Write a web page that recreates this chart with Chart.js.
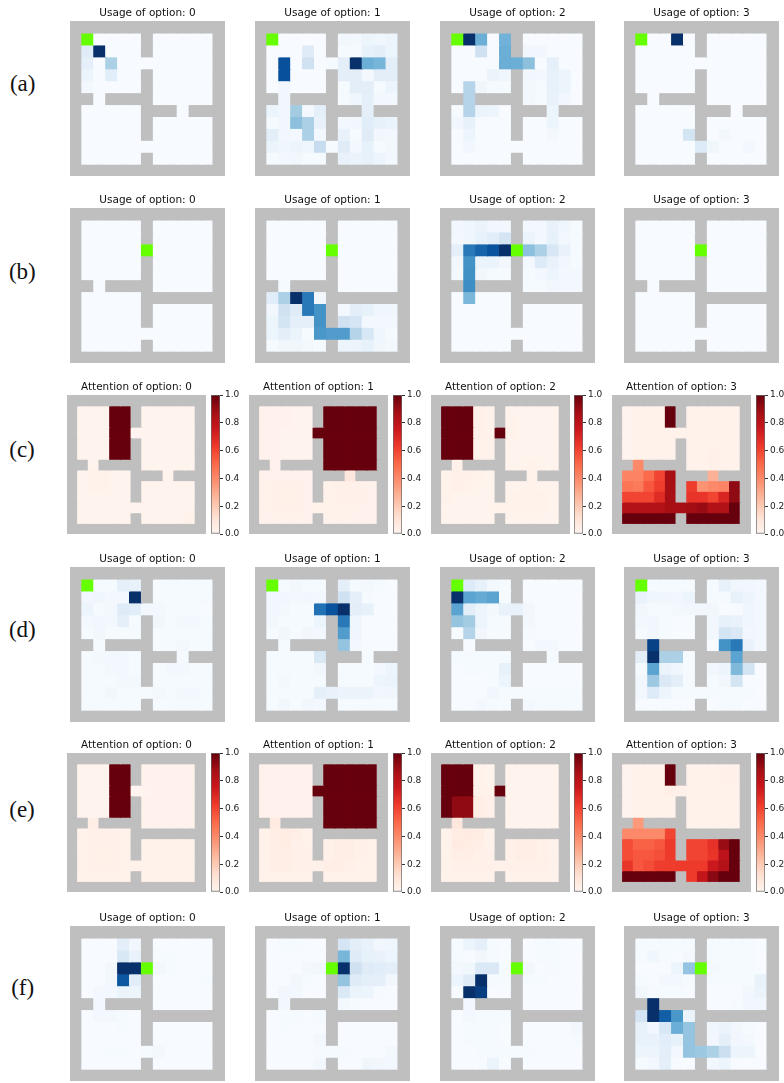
<!DOCTYPE html>
<html>
<head>
<meta charset="utf-8">
<title>Option usage and attention</title>
<script src="https://cdn.jsdelivr.net/npm/chart.js@4"></script>
<style>
    html, body { margin: 0; padding: 0; background: #fff; }
    #page { position: relative; width: 784px; height: 1083px; overflow: hidden; }
    #page canvas { position: absolute; filter: blur(0.3px); }
    .row-label { position: absolute; font-family: "Liberation Serif", serif; font-size: 23px; line-height: 26px; color: #111; transform: translate(-50%, -50%); }
</style>
</head>
<body>
<div id="page"></div>
<script>
    // Cell values are percent, rows 1-11 and columns 1-11 of the 13x13 room map
    const panelA0 = [
        [0,0,0,0,0,0,0,0,0,0,0],
        [12,100,0,0,0,0,0,0,0,0,0],
        [9,0,33,0,0,0,0,0,0,0,0],
        [5,0,11,0,0,0,0,0,0,0,0],
        [2,0,0,0,0,0,0,0,0,0,0]
    ];
    const panelA1 = [
        [0,0,0,0,0,0,3,2,5,4,5],
        [0,0,0,12,0,0,1,1,8,10,5],
        [0,88,0,20,0,1,10,100,50,47,10],
        [0,88,0,0,0,0,10,10,2,10,10],
        [0,3,0,0,0,0,1,10,10,1,5],
        [0,3,0,0,0,0,1,4,9,2,2],
        [5,3,36,2,9,0,0,0,9,0,0],
        [1,3,42,33,7,0,2,3,11,8,6],
        [10,3,2,33,2,0,7,1,12,3,2],
        [6,4,5,4,24,1,12,2,8,1,2],
        [1,2,3,1,1,0,7,6,8,5,2]
    ];
    const panelA2 = [
        [0,100,50,0,48,0,0,0,0,0,0],
        [0,0,20,0,50,0,3,3,0,0,0],
        [0,0,0,0,50,50,42,0,9,0,0],
        [0,0,0,6,4,0,3,2,8,5,0],
        [0,30,4,1,1,0,2,1,8,5,0],
        [0,30,0,0,0,0,2,1,7,3,0],
        [1,30,6,5,0,0,0,0,5,0,0],
        [3,8,0,0,0,0,0,0,5,0,0],
        [0,5,0,0,0,0,0,0,2,0,0],
        [0,3,0,0,0,0,0,0,0,0,0]
    ];
    const panelA3 = [
        [0,0,0,100,0,0,0,0,0,0,0],
        [],[],[],[],[],[],[],
        [0,0,0,0,18,0,0,2,0,0,0],
        [0,0,0,0,0,13,4,0,0,2,0]
    ];
    const panelB0 = [];
    const panelB1 = [
        [],[],[],[],[],
        [0,1,0,0,0,0,0,0,0,0,0],
        [11,33,100,72,3,0,0,0,0,0,0],
        [3,20,12,72,62,0,2,10,8,4,4],
        [5,18,9,9,62,0,20,17,2,2,2],
        [5,10,6,1,60,58,58,30,16,4,1],
        [1,4,4,2,1,0,5,6,8,4,2]
    ];
    const panelB2 = [
        [3,4,6,3,3,0,2,2,7,4,1],
        [2,4,8,11,17,0,6,2,8,2,1],
        [9,72,80,87,100,0,42,33,16,7,1],
        [3,62,6,6,3,0,2,13,7,3,1],
        [2,63,3,1,1,0,1,2,5,2,2],
        [0,64,0,0,0,0,1,1,3,2,2],
        [0,46,0,0,0,0,0,0,0,0,0]
    ];
    const panelB3 = [];
    const panelC0 = [
        [1,1,1,100,100,0,1,1,1,1,1],
        [1,1,1,100,100,0,1,1,1,1,1],
        [1,1,1,100,100,0.5,1,1,1,1,1],
        [1,1,1,100,100,0,1,1,1,1,1],
        [1,1,1,100,100,0,1,1,1,1,1],
        [0,1,0,0,0,0,1,1,1,1,1],
        [1,2,2,1,1,0,0,0,1,0,0],
        [1,2,2,1,1,0,1,1,1,1,1],
        [1,1,1,1,1,0,1,1,1,1,1],
        [1,1,1,1,1,1,1,1,1,1,1],
        [1,1,1,1,1,0,1,1,1,1,2]
    ];
    const panelC1 = [
        [1.5,1.5,1.5,1,1,0,100,100,100,100,100],
        [1.5,1.5,1.5,1,1,0,100,100,100,100,100],
        [1.5,1.5,1,1,1,100,100,100,100,100,100],
        [1.5,1.5,1,1,1,0,100,100,100,100,100],
        [1.5,1.5,1,1,1,0,100,100,100,100,100],
        [0,1.5,0,0,0,0,100,100,100,100,100],
        [1.5,1.5,1.5,1.5,1.5,0,0,0,8,0,0],
        [1.5,3,3,3,1.5,0,2,3,3,3,1.5],
        [1.5,3,3,3,1.5,0,2,3,3,3,1.5],
        [1.5,3,3,3,1.5,2,2,2,2,1.5,1.5],
        [1.5,1.5,1.5,1.5,1.5,0,1.5,1.5,1.5,1.5,1.5]
    ];
    const panelC2 = [
        [100,100,100,3,2,0,1,1,1,1,1],
        [100,100,100,3,2,0,2,1,1,1,1],
        [100,100,100,3,2,100,2,1,1,1,1],
        [100,100,100,2,2,0,1,1,1,1,1],
        [100,100,100,2,2,0,1,1,1,1,1],
        [0,3,0,0,0,0,1,1,2,1,1],
        [2,3,3,2,1,0,0,0,2,0,0],
        [2,3,2,1,1,0,1,1,2,1,1],
        [2,1,1,1,1,0,2,2,2,2,1],
        [1,1,1,1,1,2,2,2,2,2,1],
        [1,1,1,1,1,0,1,1,1,1,1]
    ];
    const panelC3 = [
        [1,2,2,2,100,0,2,2,2,2,2],
        [1,2,2,2,100,0,2,2,2,2,2],
        [1,2,2,2,2,2,2,2,2,2,2],
        [1,2,2,2,2,0,2,2,2,2,2],
        [1,2,2,2,2,0,2,2,3,2,2],
        [0,40,0,0,0,0,2,2,3,2,2],
        [42,42,50,60,87,0,0,0,28,0,0],
        [47,45,55,62,87,0,62,37,40,42,92],
        [60,60,60,68,87,0,65,65,60,70,92],
        [83,83,83,83,87,87,88,90,84,84,100],
        [100,100,100,100,100,0,100,100,100,100,100]
    ];
    const panelD0 = [
        [0,1,1,9,7,0,1,1,1,1,1],
        [3,4,2,2,100,0,1,1,1,1,1],
        [5,1,2,12,11,2,2,1,1,1,0],
        [2,3,2,9,1,0,4,1,2,2,1],
        [1,3,1,1,1,0,1,1,1,1,1],
        [0,1,0,0,0,0,1,1,2,1,1],
        [1,2,2,2,1,0,0,0,1,0,0],
        [1,1,2,2,1,0,1,2,2,1,1],
        [1,1,1,2,2,0,1,1,1,1,1],
        [1,1,3,1,1,1,2,1,2,2,1],
        [1,1,1,1,1,0,1,1,1,1,1]
    ];
    const panelD1 = [
        [0,1,2,1,1,0,9,1,2,1,0],
        [3,3,2,3,2,0,20,9,1,0,0],
        [3,2,1,1,75,87,100,10,8,0,0],
        [3,1,1,1,5,0,72,4,0,0,0],
        [1,3,1,3,2,0,58,4,0,0,0],
        [0,1,0,0,0,0,40,2,0,0,0],
        [1,1,1,1,15,0,0,0,1,0,0],
        [1,1,1,1,3,0,1,1,1,2,5],
        [1,2,1,1,1,0,1,1,1,5,6],
        [1,1,1,1,9,7,6,6,6,3,4],
        [1,3,1,3,2,0,1,1,1,1,1]
    ];
    const panelD2 = [
        [0,13,8,2,1,0,0,0,0,0,0],
        [100,55,52,55,1,0,0,0,0,0,0],
        [55,10,5,2,7,7,3,0,0,0,0],
        [40,36,5,1,1,0,2,0,0,0,0],
        [1,30,3,1,1,0,1,0,0,0,0],
        [0,0,0,0,0,0,0,2,2,0,0],
        [1,1,1,1,1,0,0,0,1,0,0],
        [0,1,1,1,8,0,0,0,0,0,0],
        [0,0,0,1,5,0,0,0,0,0,0],
        [0,0,0,3,1,1,1,1,1,1,1],
        [0,0,2,1,1,0,2,1,1,1,1]
    ];
    const panelD3 = [
        [0,1,1,1,1,0,1,8,4,3,2],
        [7,4,4,3,5,0,1,1,8,5,2],
        [3,1,1,2,3,3,3,0,0,4,2],
        [2,3,1,0,0,0,3,8,7,4,2],
        [1,3,1,0,0,0,3,18,14,3,2],
        [0,93,0,0,0,0,0,62,72,7,2],
        [10,100,33,33,1,0,0,0,55,0,0],
        [1,55,6,4,1,0,3,5,45,18,0],
        [3,38,14,10,1,0,1,3,18,0,0],
        [3,13,5,1,1,1,1,1,1,1,0],
        [0,0,0,0,0,0,0,1,1,0,0]
    ];
    const panelE0 = [
        [1,1,1,100,100,0,1.5,1.5,1.5,1.5,1.5],
        [1,1,1,100,100,0,1.5,1.5,1.5,1.5,1.5],
        [1,1,1,100,100,0.5,1,1.5,1.5,1.5,1.5],
        [1,1,1,100,100,0,1.5,1.5,1.5,1.5,1.5],
        [1,1,1,100,100,0,1.5,1.5,1.5,1.5,1.5],
        [0,4,0,0,0,0,1.5,1.5,1.5,1.5,1.5],
        [2,3,3,3,2,0,0,0,0,0,0],
        [2,3,3,3,2,0,2,2,2,2,2],
        [2,3,3,3,2,0,2,2,2,2,2],
        [2,3,3,3,2,2,2,2,2,2,2],
        [2,2,2,2,2,0,2,2,2,2,2]
    ];
    const panelE1 = [
        [1.5,1.5,1.5,1.5,1.5,0,100,100,100,100,100],
        [1.5,1.5,1.5,1.5,1.5,0,100,100,100,100,100],
        [1.5,1.5,1.5,1.5,1.5,100,100,100,100,100,100],
        [1.5,1.5,1.5,1.5,1.5,0,100,100,100,100,100],
        [1.5,1.5,1.5,1.5,1.5,0,100,100,100,100,100],
        [0,6,0,0,0,0,100,100,100,100,100],
        [2,4,5,4,2,0,0,0,0,0,0],
        [2,4,5,3,2,0,3,4,4,3,2],
        [2,4,4,3,3,0,3,4,4,3,2],
        [2,4,4,3,3,3,4,4,3,2,2],
        [2,2,2,2,2,0,2,2,2,2,2]
    ];
    const panelE2 = [
        [100,100,100,2,1,0,1,1,1,1,1],
        [100,100,100,2,1,0,1,1,1,1,1],
        [100,100,100,2,2,100,1,1,1,1,1],
        [100,92,92,4,3,0,1,1,1,1,1],
        [100,92,92,4,3,0,1,1,1,1,1],
        [0,8,0,0,0,0,1,1,1,1,1],
        [2,5,6,5,2,0,0,0,0,0,0],
        [2,6,5,4,2,0,3,4,4,3,2],
        [2,4,4,3,3,0,3,4,4,3,2],
        [2,3,3,3,3,3,3,3,3,3,2],
        [2,2,2,2,2,0,2,2,2,2,2]
    ];
    const panelE3 = [
        [1,2,2,2,100,0,2,2,2,3,3],
        [1,2,2,2,100,0,2,2,2,3,3],
        [1,2,2,2,4,3,2,2,2,2,2],
        [1,2,2,2,2,0,2,2,2,2,2],
        [1,2,2,2,2,0,2,2,2,2,2],
        [0,35,0,0,0,0,2,2,2,2,2],
        [40,40,40,40,60,0,0,0,0,0,0],
        [58,52,52,55,63,0,60,60,66,90,100],
        [58,55,55,57,63,0,60,60,65,80,100],
        [65,55,58,62,62,63,63,63,75,83,100],
        [100,100,100,100,100,0,63,78,93,100,100]
    ];
    const panelF0 = [
        [0,0,0,10,3,0,0,0,0,0,0],
        [0,0,0,15,7,0,1,1,0,0,0],
        [0,0,3,100,100,0,3,1,0,0,0],
        [0,0,3,85,11,0,0,0,0,0,1],
        [0,2,2,6,5,0,0,0,0,0,0],
        [0,2,0,0,0,0,0,0,0,0,0],
        [0,2,2,1,0,0,0,0,0,0,0],
        [0,0,0,1,0,0,0,0,0,0,0],
        [],
        [0,0,1,1,0,1,2,0,0,0,0]
    ];
    const panelF1 = [
        [0,1,1,0,0,0,17,10,7,3,4],
        [0,0,0,0,0,0,47,12,8,7,5],
        [0,0,0,2,3,0,100,20,12,11,10],
        [0,0,3,1,0,0,40,12,9,9,3],
        [0,3,2,0,0,0,14,6,5,1,0],
        [0,2,0,0,0,0,2,1,0,0,0],
        [0,1,1,0,1,0,0,0,0,0,0],
        [0,1,0,0,0,0,0,0,0,0,0],
        [0,0,0,0,2,0,0,0,0,0,0],
        [0,0,0,0,1,1,1,0,0,0,2],
        [0,0,0,0,2,0,0,0,4,3,2]
    ];
    const panelF2 = [
        [1,6,9,1,0,0,0,1,1,0,0],
        [1,0,3,1,0,0,0,1,1,0,0],
        [2,4,14,14,1,0,3,0,1,0,0],
        [5,12,100,1,1,0,1,1,0,0,0],
        [0,100,95,0,0,0,0,0,0,0,0],
        [0,2,0,0,0,0,0,0,0,0,0],
        [0,2,1,1,1,0,0,0,0,0,0],
        [0,1,1,1,0,0,0,0,0,0,2],
        [0,1,1,1,0,0,0,0,0,0,1],
        [0,0,1,1,1,1,1,0,0,0,0],
        [0,0,0,6,0,0,0,0,0,0,0]
    ];
    const panelF3 = [
        [1,1,1,1,1,0,1,1,1,1,0],
        [1,4,1,0,2,0,1,1,1,1,0],
        [0,0,0,5,40,0,2,1,1,1,0],
        [1,0,2,2,1,0,1,1,1,1,7],
        [3,1,1,1,0,0,0,0,0,3,6],
        [0,100,0,0,0,0,0,0,1,3,3],
        [17,100,82,60,6,0,0,0,0,0,0],
        [8,3,16,50,40,0,4,6,3,1,0],
        [7,7,11,8,40,0,3,9,3,2,0],
        [5,5,10,2,40,38,33,22,5,5,0],
        [1,2,9,0,0,0,3,5,0,0,0]
    ];

    // Room maps, # is wall
    const roomsOpen = [
        '#############',
        '#.....#.....#',
        '#.....#.....#',
        '#...........#',
        '#.....#.....#',
        '#.....#.....#',
        '##.####.....#',
        '#.....###.###',
        '#.....#.....#',
        '#.....#.....#',
        '#...........#',
        '#.....#.....#',
        '#############'
    ];
    const roomsClosed = [
        '#############',
        '#.....#.....#',
        '#.....#.....#',
        '#...........#',
        '#.....#.....#',
        '#.....#.....#',
        '##.####.....#',
        '#.....#######',
        '#.....#.....#',
        '#.....#.....#',
        '#...........#',
        '#.....#.....#',
        '#############'
    ];
    const goalCorner = [1, 1];
    const goalDoor = [3, 6];

    const usageColumnX = [70, 255, 440, 624];
    const attentionColumnX = [67, 249, 431, 612];
    const colorbarX = [211, 393, 574, 756];
    const usageSize = 155;
    const attentionSize = 139;
    const colorbarTicks = [0, 0.2, 0.4, 0.6, 0.8, 1];

    const bluesStops = ['#f7fbff', '#deebf7', '#c6dbef', '#9ecae1', '#6baed6', '#4292c6', '#2171b5', '#08519c', '#08306b'];
    const redsStops = ['#fff5f0', '#fee0d2', '#fcbba1', '#fc9272', '#fb6a4a', '#ef3b2c', '#cb181d', '#a50f15', '#67000d'];

    const figureRows = [
        { label: '(a)', labelX: 22.7, labelY: 84, top: 21, kind: 'Usage', rooms: roomsOpen, goal: goalCorner, panels: [panelA0, panelA1, panelA2, panelA3] },
        { label: '(b)', labelX: 22.3, labelY: 272, top: 208, kind: 'Usage', rooms: roomsClosed, goal: goalDoor, panels: [panelB0, panelB1, panelB2, panelB3] },
        { label: '(c)', labelX: 22, labelY: 450, top: 395, kind: 'Attention', rooms: roomsOpen, goal: null, panels: [panelC0, panelC1, panelC2, panelC3] },
        { label: '(d)', labelX: 22.3, labelY: 630, top: 567, kind: 'Usage', rooms: roomsOpen, goal: goalCorner, panels: [panelD0, panelD1, panelD2, panelD3] },
        { label: '(e)', labelX: 22, labelY: 810, top: 753, kind: 'Attention', rooms: roomsClosed, goal: null, panels: [panelE0, panelE1, panelE2, panelE3] },
        { label: '(f)', labelX: 22.7, labelY: 988, top: 926, kind: 'Usage', rooms: roomsClosed, goal: goalDoor, panels: [panelF0, panelF1, panelF2, panelF3] }
    ];

    const page = document.getElementById('page');
    const WALL = '#bfbfbf';
    const GOAL = '#66ff00';
    const TITLE_SPACE = 14;
    const BAR_MARGIN = 10;

    function hexToRgb(hex) {
        return [1, 3, 5].map(i => parseInt(hex.slice(i, i + 2), 16));
    }

    function colormap(stops, value) {
        const pos = Math.min(Math.max(value, 0), 1) * (stops.length - 1);
        const i = Math.min(Math.floor(pos), stops.length - 2);
        const a = hexToRgb(stops[i]);
        const b = hexToRgb(stops[i + 1]);
        const t = pos - i;
        return `rgb(${a.map((v, k) => Math.round(v + (b[k] - v) * t)).join(',')})`;
    }

    function addCanvas(left, top, width, height) {
        const canvas = document.createElement('canvas');
        canvas.width = width;
        canvas.height = height;
        canvas.style.left = left + 'px';
        canvas.style.top = top + 'px';
        canvas.style.width = width + 'px';
        canvas.style.height = height + 'px';
        page.appendChild(canvas);
        return canvas;
    }

    function cellColor(row, col, values, rows, goal, stops) {
        if (goal && goal[0] === row && goal[1] === col) return GOAL;
        if (rows[row][col] === '#') return WALL;
        const line = values[row - 1];
        const v = line && line.length ? line[col - 1] : 0;
        return colormap(stops, v / 100);
    }

    function drawPanel(left, top, size, titleSize, title, values, rows, goal, stops) {
        const columns = rows[0].split('').map((_, i) => i);
        const datasets = rows.map((_, r) => ({
            data: columns.map(() => [r, r + 1]),
            backgroundColor: columns.map(c => cellColor(r, c, values, rows, goal, stops)),
            borderWidth: 0,
            inflateAmount: 0.6,
            barPercentage: 1,
            categoryPercentage: 1,
            grouped: false
        }));
        new Chart(addCanvas(left, top - TITLE_SPACE, size, size + TITLE_SPACE), {
            type: 'bar',
            data: { labels: columns, datasets: datasets },
            options: {
                responsive: false,
                animation: false,
                devicePixelRatio: 1,
                layout: { padding: 0 },
                plugins: {
                    legend: { display: false },
                    tooltip: { enabled: false },
                    title: {
                        display: true,
                        text: title,
                        color: '#111',
                        font: { family: 'DejaVu Sans', size: titleSize, weight: 'normal', lineHeight: '12px' },
                        padding: { top: 0, bottom: 2 }
                    }
                },
                scales: {
                    x: { display: false, grid: { display: false } },
                    y: { display: false, min: 0, max: rows.length, reverse: true, grid: { display: false } }
                }
            }
        });
    }

    function drawColorbar(left, top, height) {
        new Chart(addCanvas(left, top - BAR_MARGIN, 33, height + BAR_MARGIN * 2), {
            type: 'bar',
            data: {
                labels: ['attention'],
                datasets: [{
                    data: [[0, 1]],
                    backgroundColor: ctx => {
                        const area = ctx.chart.chartArea;
                        if (!area) return redsStops[0];
                        const gradient = ctx.chart.ctx.createLinearGradient(0, area.bottom, 0, area.top);
                        redsStops.forEach((c, i) => gradient.addColorStop(i / (redsStops.length - 1), c));
                        return gradient;
                    },
                    borderColor: '#666',
                    borderWidth: 1,
                    borderSkipped: false,
                    barPercentage: 1,
                    categoryPercentage: 1
                }]
            },
            options: {
                responsive: false,
                animation: false,
                devicePixelRatio: 1,
                layout: { padding: { top: BAR_MARGIN, bottom: BAR_MARGIN } },
                plugins: { legend: { display: false }, tooltip: { enabled: false } },
                scales: {
                    x: { display: false, grid: { display: false } },
                    y: {
                        position: 'right',
                        min: 0,
                        max: 1,
                        afterFit: scale => { scale.width = 24; },
                        afterBuildTicks: scale => { scale.ticks = colorbarTicks.map(v => ({ value: v })); },
                        border: { display: false },
                        grid: { drawOnChartArea: false, drawTicks: true, tickLength: 3, color: '#333', lineWidth: 1 },
                        ticks: {
                            color: '#222',
                            padding: 2,
                            font: { family: 'DejaVu Sans', size: 9 },
                            callback: v => v.toFixed(1)
                        }
                    }
                }
            }
        });
    }

    figureRows.forEach(row => {
        const label = document.createElement('div');
        label.className = 'row-label';
        label.textContent = row.label;
        label.style.left = row.labelX + 'px';
        label.style.top = row.labelY + 'px';
        page.appendChild(label);

        const usage = row.kind === 'Usage';
        row.panels.forEach((values, i) => {
            const title = `${row.kind} of option: ${i}`;
            if (usage) {
                drawPanel(usageColumnX[i], row.top, usageSize, 10.5, title, values, row.rooms, row.goal, bluesStops);
            } else {
                drawPanel(attentionColumnX[i], row.top, attentionSize, 10.4, title, values, row.rooms, row.goal, redsStops);
                drawColorbar(colorbarX[i], row.top, attentionSize);
            }
        });
    });
</script>
</body>
</html>
